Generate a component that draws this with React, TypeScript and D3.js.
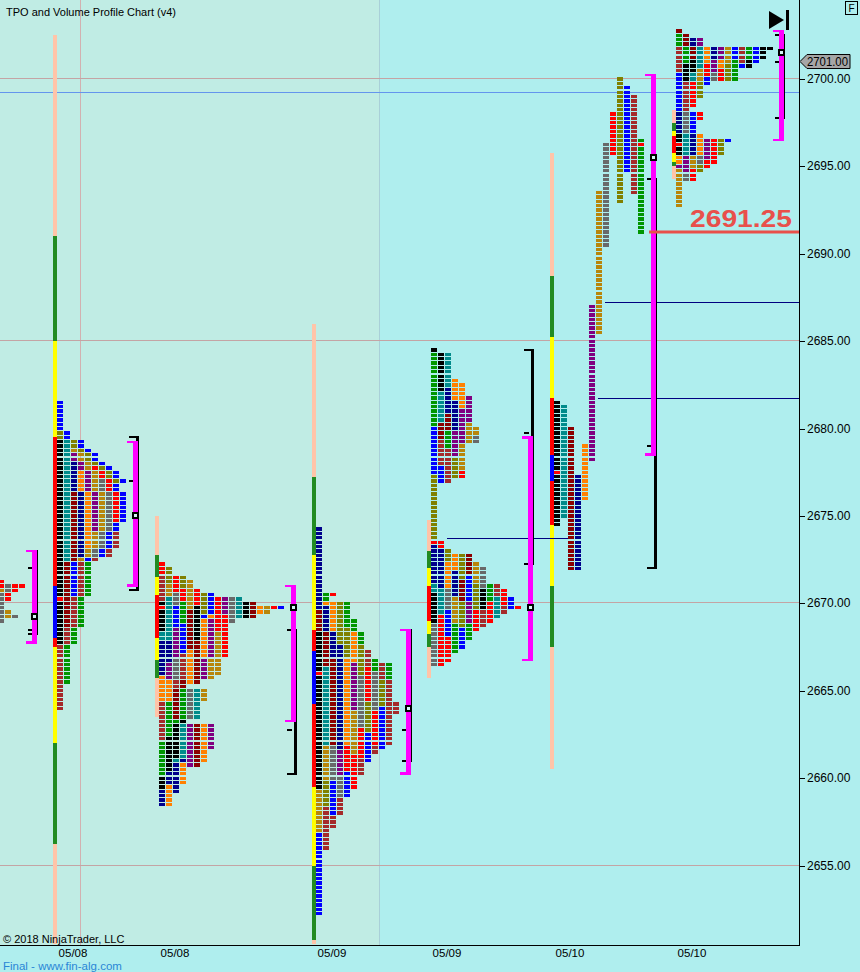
import * as d3 from "d3";
import React from "react";

// TPO + volume profile chart (NinjaTrader style)
type Period = [string, number, number]; // color key, high, low
type Seg = [string, number, number];

const W = 860;
const H = 972;
const plotRight = 799;
const plotBottom = 945;

const tpoColors: Record<string, string> = {
  k: "#000000", t: "#008b8b", m: "#8b0000", n: "#00008b", o: "#ff8000", p: "#800080",
  g: "#b8860b", d: "#696969", r: "#ff0000", v: "#808000", b: "#0000ff", w: "#a52a2a", G: "#009600",
};
const barColors: Record<string, string> = {
  P: "#ffc4a8", G: "#228b22", Y: "#ffff00", R: "#ff0000", B: "#0000ff",
};

// ---- data: periods per session (time order) ----
const periodsA: Period[] = [
  ["r", 2671.25, 2671.0], ["g", 2670.75, 2670.75], ["d", 2671.0, 2669.0], ["r", 2671.0, 2670.25],
  ["g", 2669.5, 2669.25], ["d", 2669.25, 2669.25], ["r", 2671.0, 2671.0],
];
const periodsB: Period[] = [
  ["k", 2679.25, 2667.75], ["t", 2679.25, 2672.5], ["m", 2676.25, 2668.75], ["n", 2678.0, 2672.75],
  ["o", 2677.5, 2673.25], ["p", 2678.5, 2674.25], ["g", 2678.75, 2672.5], ["d", 2677.0, 2672.75],
  ["r", 2677.75, 2674.75], ["v", 2679.75, 2677.0], ["b", 2681.5, 2670.5], ["w", 2674.0, 2664.0],
  ["G", 2672.25, 2665.5],
];
const periodsC: Period[] = [
  ["r", 2672.25, 2671.75], ["w", 2671.5, 2670.25], ["k", 2670.0, 2668.5], ["t", 2668.25, 2668.0],
  ["n", 2667.75, 2666.0], ["o", 2665.75, 2664.5], ["w", 2664.25, 2662.25], ["G", 2662.0, 2660.25],
  ["k", 2660.0, 2659.5], ["n", 2659.25, 2658.5],
  ["v", 2672.0, 2671.25], ["g", 2671.0, 2670.5], ["t", 2670.25, 2668.0], ["n", 2667.75, 2666.75],
  ["p", 2666.5, 2665.75], ["o", 2665.5, 2664.5], ["G", 2664.25, 2662.5], ["k", 2662.25, 2660.5],
  ["n", 2660.25, 2659.75], ["o", 2659.5, 2658.5],
  ["r", 2671.5, 2670.75], ["v", 2671.5, 2671.0], ["d", 2670.5, 2670.0], ["r", 2670.75, 2670.25],
  ["b", 2669.75, 2668.75], ["G", 2670.0, 2669.0], ["p", 2668.5, 2667.0], ["b", 2668.75, 2667.25],
  ["d", 2666.75, 2665.75], ["w", 2667.0, 2665.25], ["m", 2665.5, 2663.5], ["G", 2665.0, 2663.25],
  ["k", 2663.25, 2661.25], ["t", 2663.0, 2661.0], ["n", 2661.0, 2659.25], ["o", 2660.75, 2659.75],
  ["g", 2671.25, 2669.75], ["r", 2670.75, 2670.0], ["m", 2669.5, 2667.5], ["k", 2669.75, 2668.0],
  ["v", 2670.5, 2669.5], ["o", 2667.25, 2665.5], ["m", 2667.75, 2665.5], ["b", 2670.5, 2669.25],
  ["o", 2669.25, 2667.0], ["d", 2665.0, 2663.5], ["t", 2665.0, 2663.5], ["p", 2669.0, 2665.75],
  ["g", 2666.75, 2665.75], ["g", 2665.0, 2664.5], ["p", 2663.0, 2660.75], ["m", 2663.0, 2660.75],
  ["o", 2663.0, 2661.0], ["p", 2663.0, 2661.75],
  ["r", 2670.25, 2668.5], ["g", 2668.25, 2666.0], ["p", 2670.25, 2669.5], ["r", 2669.25, 2667.0],
  ["d", 2670.25, 2669.0], ["t", 2670.25, 2669.25], ["k", 2670.0, 2669.25], ["m", 2670.0, 2669.25],
  ["o", 2669.75, 2669.5], ["g", 2669.75, 2669.5], ["r", 2669.75, 2669.75], ["b", 2669.75, 2669.75],
];
const periodsD: Period[] = [
  ["n", 2674.25, 2669.75], ["m", 2669.5, 2668.5], ["k", 2668.25, 2659.5], ["g", 2659.25, 2657.0], ["b", 2656.75, 2652.25],
  ["G", 2670.5, 2670.25], ["o", 2670.0, 2670.0], ["n", 2669.75, 2668.5], ["m", 2668.25, 2666.5], ["t", 2666.25, 2662.0],
  ["g", 2661.75, 2660.0], ["v", 2659.75, 2658.5], ["w", 2658.25, 2656.0],
  ["r", 2670.5, 2670.5], ["o", 2670.0, 2668.5], ["n", 2668.25, 2667.0], ["m", 2666.75, 2662.0], ["d", 2661.75, 2660.0],
  ["b", 2659.75, 2658.0], ["w", 2657.75, 2657.25],
  ["v", 2670.0, 2667.75], ["n", 2667.5, 2661.75], ["p", 2661.5, 2660.25], ["d", 2660.0, 2659.0], ["w", 2658.75, 2658.0],
  ["G", 2670.0, 2668.75], ["v", 2668.5, 2667.0], ["o", 2666.75, 2662.0], ["r", 2661.75, 2660.5], ["b", 2660.25, 2659.0],
  ["G", 2669.0, 2668.5], ["o", 2668.25, 2666.75], ["p", 2666.5, 2664.0], ["g", 2663.75, 2661.5], ["r", 2661.25, 2659.5],
  ["G", 2668.25, 2667.75], ["v", 2667.5, 2666.0], ["d", 2665.75, 2663.0], ["r", 2662.75, 2661.25], ["w", 2661.0, 2660.25],
  ["w", 2667.25, 2666.5], ["r", 2666.25, 2664.5], ["v", 2664.25, 2662.75], ["b", 2662.5, 2661.0],
  ["G", 2666.75, 2666.25], ["d", 2666.0, 2664.0], ["r", 2663.75, 2662.0], ["w", 2661.75, 2661.5],
  ["w", 2666.5, 2665.75], ["v", 2665.5, 2664.25], ["b", 2664.0, 2661.75],
  ["G", 2666.5, 2665.75], ["w", 2665.5, 2662.0], ["w", 2664.25, 2663.75],
];
const periodsE: Period[] = [
  ["k", 2684.5, 2684.5], ["G", 2684.25, 2680.25], ["b", 2680.0, 2677.5], ["v", 2677.25, 2673.5],
  ["n", 2673.25, 2671.25], ["t", 2671.0, 2670.75], ["k", 2670.5, 2669.0], ["d", 2668.75, 2666.5],
  ["k", 2684.25, 2682.25], ["t", 2682.0, 2680.5], ["m", 2680.25, 2679.5], ["w", 2679.25, 2678.0], ["b", 2677.75, 2677.0],
  ["r", 2673.5, 2673.25], ["n", 2673.0, 2671.0], ["t", 2670.75, 2669.5], ["r", 2669.25, 2666.5],
  ["t", 2684.25, 2682.5], ["n", 2682.25, 2681.0], ["m", 2680.75, 2680.0], ["G", 2679.75, 2679.0], ["w", 2678.75, 2677.0],
  ["v", 2673.0, 2672.5], ["o", 2672.25, 2671.0], ["d", 2670.75, 2669.75], ["b", 2669.5, 2668.25], ["r", 2668.0, 2666.75],
  ["o", 2682.75, 2681.75], ["n", 2681.5, 2680.0], ["p", 2679.75, 2678.5], ["v", 2678.25, 2677.25],
  ["o", 2672.75, 2672.0], ["n", 2671.75, 2670.5], ["g", 2670.25, 2669.0], ["G", 2668.75, 2667.25],
  ["o", 2682.5, 2681.25], ["p", 2681.0, 2679.25], ["g", 2679.0, 2677.75], ["r", 2677.5, 2677.25],
  ["v", 2672.75, 2671.5], ["m", 2671.25, 2670.25], ["v", 2670.0, 2668.75], ["b", 2668.5, 2667.5],
  ["p", 2681.75, 2680.5], ["g", 2680.25, 2679.25],
  ["m", 2672.75, 2671.75], ["b", 2671.5, 2670.25], ["p", 2670.0, 2669.0], ["G", 2668.75, 2668.0],
  ["g", 2680.0, 2679.75], ["d", 2679.5, 2679.25],
  ["g", 2672.25, 2671.25], ["v", 2671.0, 2669.75], ["r", 2669.5, 2668.5],
  ["d", 2672.0, 2671.0], ["k", 2670.75, 2669.75], ["w", 2669.5, 2668.75],
  ["G", 2671.0, 2670.25], ["r", 2670.0, 2669.0], ["w", 2671.0, 2670.5], ["t", 2670.25, 2669.25],
  ["r", 2670.75, 2670.0], ["w", 2669.75, 2669.5], ["b", 2670.25, 2669.75], ["r", 2669.75, 2669.75],
];
// split profile: one column per period
const periodsF: Period[] = [
  ["k", 2681.5, 2674.5], ["t", 2681.25, 2675.0], ["m", 2680.0, 2672.0], ["n", 2677.25, 2672.0],
  ["o", 2679.0, 2676.0], ["p", 2687.0, 2678.25], ["g", 2693.5, 2685.5], ["d", 2696.25, 2690.5],
  ["r", 2698.0, 2695.75], ["v", 2700.0, 2693.0], ["b", 2699.5, 2694.75], ["w", 2699.0, 2693.5],
  ["G", 2696.5, 2691.25],
];
const periodsG: Period[] = [
  ["m", 2702.75, 2702.75], ["G", 2702.5, 2702.0], ["w", 2701.75, 2700.5], ["b", 2700.25, 2698.25],
  ["n", 2698.0, 2697.0], ["k", 2696.75, 2695.75], ["o", 2695.5, 2695.25], ["p", 2695.0, 2695.0], ["g", 2694.75, 2692.75],
  ["m", 2702.5, 2702.0], ["G", 2701.75, 2701.0], ["k", 2700.75, 2700.0], ["w", 2699.75, 2698.25],
  ["d", 2698.0, 2697.0], ["t", 2696.75, 2695.75], ["p", 2695.5, 2694.75], ["d", 2694.5, 2694.25],
  ["n", 2702.25, 2702.0], ["m", 2701.75, 2701.25], ["k", 2701.0, 2700.5], ["t", 2700.25, 2700.0], ["r", 2699.75, 2698.5],
  ["b", 2698.0, 2697.0], ["n", 2696.75, 2695.75], ["g", 2695.5, 2695.0], ["r", 2694.75, 2694.25],
  ["p", 2702.25, 2702.0], ["t", 2701.75, 2700.75], ["g", 2700.5, 2700.0], ["v", 2699.75, 2699.0],
  ["r", 2698.0, 2697.75], ["o", 2696.75, 2695.75], ["d", 2695.5, 2695.25], ["v", 2695.0, 2694.75],
  ["o", 2701.75, 2701.0], ["r", 2700.75, 2700.25], ["b", 2700.0, 2699.75], ["p", 2696.5, 2695.5], ["r", 2695.25, 2695.0],
  ["n", 2701.75, 2701.25], ["p", 2701.0, 2700.5], ["d", 2700.25, 2700.0], ["r", 2696.5, 2695.25],
  ["p", 2701.75, 2701.25], ["o", 2701.0, 2700.75], ["r", 2700.5, 2700.0], ["v", 2696.5, 2695.75],
  ["g", 2701.75, 2701.0], ["v", 2700.75, 2700.0], ["b", 2696.5, 2696.5],
  ["b", 2701.75, 2701.25], ["G", 2701.0, 2700.0], ["w", 2701.75, 2701.0], ["b", 2700.75, 2700.75],
  ["G", 2701.75, 2701.25], ["k", 2701.0, 2700.75], ["b", 2701.75, 2701.0], ["k", 2701.75, 2701.25],
  ["k", 2701.75, 2701.75],
];

const openPrices = [null, 2670.25, 2669.75, 2666.0, 2673.5, 2677.5, 2696.25];
const closeF = 2696.25;

// ---- session colour bars ----
const barB: Seg[] = [["P", 2702.5, 2691.0], ["G", 2691.0, 2685.0], ["Y", 2685.0, 2679.5], ["R", 2679.5, 2671.0], ["B", 2671.0, 2668.0], ["R", 2668.0, 2667.5], ["Y", 2667.5, 2662.0], ["G", 2662.0, 2656.25], ["P", 2656.25, 2650.5]];
const barC: Seg[] = [["P", 2675.0, 2672.75], ["G", 2672.75, 2671.5], ["Y", 2671.5, 2670.5], ["R", 2670.5, 2668.0], ["Y", 2668.0, 2666.75], ["G", 2666.75, 2665.75], ["P", 2665.75, 2663.5]];
const barD: Seg[] = [["P", 2686.0, 2677.25], ["G", 2677.25, 2672.75], ["Y", 2672.75, 2668.5], ["R", 2668.5, 2667.25], ["B", 2667.25, 2664.25], ["R", 2664.25, 2659.5], ["Y", 2659.5, 2655.0], ["G", 2655.0, 2650.75], ["P", 2650.75, 2650.5]];
const barE: Seg[] = [["P", 2674.75, 2673.0], ["G", 2673.0, 2672.0], ["Y", 2672.0, 2671.0], ["R", 2671.0, 2669.0], ["Y", 2669.0, 2668.25], ["G", 2668.25, 2667.5], ["P", 2667.5, 2665.75]];
const barF: Seg[] = [["P", 2695.75, 2688.75], ["G", 2688.75, 2685.25], ["Y", 2685.25, 2681.75], ["R", 2681.75, 2678.5], ["B", 2678.5, 2677.0], ["R", 2677.0, 2674.5], ["Y", 2674.5, 2671.0], ["G", 2671.0, 2667.5], ["P", 2667.5, 2660.5]];
const barG: Seg[] = [["P", 2698.25, 2697.5], ["G", 2697.5, 2697.0], ["Y", 2697.0, 2696.75], ["R", 2696.75, 2695.75], ["Y", 2695.75, 2695.25], ["G", 2695.25, 2695.0], ["P", 2695.0, 2694.25]];

// ---- value area / range brackets ----
const valueAreas = [[2673.0, 2667.75], [2679.25, 2671.0], [2671.0, 2663.25], [2668.5, 2660.25], [2679.5, 2666.75], [2700.25, 2678.5], [2702.75, 2696.5]];
const ranges = [[2673.0, 2668.25], [2679.5, 2670.75], [2668.5, 2660.25], [2668.5, 2661.0], [2684.5, 2672.25], [2694.25, 2672.0], [2702.5, 2697.75]];
const rangeTicks = [[2672.0, 2668.5], [2677.0], [2662.75], [2662.75], [2679.75], [2679.0], [2701.0]];
const pocs = [2669.25, 2675.0, 2669.75, 2664.0, 2669.75, 2695.5, 2701.5];

// ---- reference lines ----
const gridPrices = [2700, 2685, 2670, 2655];
const bluePrice = 2699.25;
const navyLines: [number, number, number][] = [[2673.75, 447, 568], [2687.25, 605, plotRight], [2681.75, 598, plotRight]];
const redLevel = 2691.25;
const lastPrice = 2701.0;
const dateLabels = ["05/08", "05/08", "05/09", "05/09", "05/10", "05/10"];

// layout
const profileX = [-2, 57, 159, 316, 431, 554, 676];
const bracketX = [32, 133, 291, 406, 528, 651, 779];
const barX = [53, 155, 312, 427, 550, 672];
const bars = [barB, barC, barD, barE, barF, barG];
const profiles = [periodsA, periodsB, periodsC, periodsD, periodsE, periodsF, periodsG];
const splitMode = [false, false, false, false, false, true, false];

const y = d3.scaleLinear().domain([2655, 2700]).range([865.5, 79]);
const font = "'Liberation Sans', Arial, sans-serif";

type Cell = { x: number; p: number; c: string };

function buildCells(periods: Period[], x0: number, split: boolean, open: number | null): Cell[] {
  const cells: Cell[] = [];
  if (split) {
    periods.forEach(([c, hi, lo], i) => {
      for (let t = Math.round(hi * 4); t >= Math.round(lo * 4); t--) {
        cells.push({ x: x0 + 7 * i, p: t / 4, c: i === 0 && open != null && t === Math.round(open * 4) ? "r" : c });
      }
    });
    return cells;
  }
  const rows = new Map<number, string[]>();
  periods.forEach(([c, hi, lo]) => {
    for (let t = Math.round(hi * 4); t >= Math.round(lo * 4); t--) {
      if (!rows.has(t)) rows.set(t, []);
      rows.get(t)!.push(c);
    }
  });
  rows.forEach((list, t) => {
    list.forEach((c, i) => {
      const isOpen = i === 0 && open != null && t === Math.round(open * 4);
      cells.push({ x: x0 + 7 * i, p: t / 4, c: isOpen ? "r" : c });
    });
  });
  return cells;
}

const App: React.FC = () => {
  const allCells = profiles.map((pr, i) => buildCells(pr, profileX[i], splitMode[i], openPrices[i]));
  const fClose = { x: profileX[5] + 7 * (periodsF.length - 1), p: closeF };
  const ticks = y.ticks(10);
  const ly = y(lastPrice);

  return (
    <svg width={W} height={H} style={{ position: "absolute", left: 0, top: 0 }} fontFamily={font}>
      <rect width={W} height={H} fill="#afeeee" />
      <rect x={0} y={0} width={379} height={plotBottom} fill="#c0ece4" />
      <line x1={379.5} x2={379.5} y1={0} y2={plotBottom} stroke="#a9cfd8" />
      <line x1={80.5} x2={80.5} y1={0} y2={plotBottom} stroke="#d2b0b0" />
      {gridPrices.map((p) => (
        <line key={p} x1={0} x2={plotRight} y1={Math.round(y(p)) - 0.5} y2={Math.round(y(p)) - 0.5} stroke="#c4a4a4" />
      ))}
      <line x1={0} x2={plotRight} y1={Math.round(y(bluePrice)) + 0.5} y2={Math.round(y(bluePrice)) + 0.5} stroke="#6495ed" />

      {/* session colour bars */}
      <g shapeRendering="crispEdges">
        {bars.map((segs, i) =>
          segs.map(([c, hi, lo], j) => (
            <rect key={`${i}-${j}`} x={barX[i]} y={y(hi)} width={4} height={y(lo) - y(hi)} fill={barColors[c]} />
          ))
        )}
      </g>

      {/* TPO cells */}
      <g shapeRendering="crispEdges">
        {allCells.map((cells, i) =>
          cells.map((cl, j) => (
            <rect key={`${i}-${j}`} x={cl.x} y={y(cl.p) - 1.6} width={6} height={3.3} fill={tpoColors[cl.c]} />
          ))
        )}
        <rect x={fClose.x} y={y(fClose.p) - 1.6} width={6} height={3.3} fill="#ff0000" />
      </g>

      {navyLines.map(([p, x1, x2], i) => (
        <line key={i} x1={x1} x2={x2} y1={Math.round(y(p)) + 0.5} y2={Math.round(y(p)) + 0.5} stroke="#000080" />
      ))}

      {/* brackets */}
      <g shapeRendering="crispEdges">
        {bracketX.map((bx, i) => {
          const [rh, rl] = ranges[i];
          const [vh, vl] = valueAreas[i];
          return (
            <g key={i}>
              <rect x={bx + 3} y={y(rh) - 1} width={3} height={y(rl) - y(rh) + 2} fill="#000" />
              <rect x={bx - 4} y={y(rh) - 1} width={10} height={2} fill="#000" />
              <rect x={bx - 4} y={y(rl) - 1} width={10} height={2} fill="#000" />
              {rangeTicks[i].map((t) => (
                <rect key={t} x={bx - 4} y={y(t) - 1} width={5} height={2} fill="#000" />
              ))}
              <rect x={bx} y={y(vh) - 1} width={4.5} height={y(vl) - y(vh) + 2} fill="#ff00ff" />
              <rect x={bx - 6} y={y(vh) - 1} width={10.5} height={2.5} fill="#ff00ff" />
              <rect x={bx - 6} y={y(vl) - 1.5} width={10.5} height={2.5} fill="#ff00ff" />
              <rect x={bx} y={y(pocs[i]) - 2.5} width={5} height={5} fill="#d4f7f7" stroke="#000" strokeWidth={2} />
            </g>
          );
        })}
      </g>

      {/* red level */}
      <line x1={649} x2={plotRight} y1={y(redLevel)} y2={y(redLevel)} stroke="#e8504b" strokeWidth={3} />
      <text x={690} y={227} fontSize={24} fontWeight="bold" fill="#e8504b" textLength={102} lengthAdjust="spacingAndGlyphs">
        {d3.format(".2f")(redLevel)}
      </text>

      {/* axes */}
      <line x1={plotRight + 0.5} x2={plotRight + 0.5} y1={0} y2={plotBottom} stroke="#000" />
      <line x1={0} x2={plotRight + 1} y1={plotBottom + 0.5} y2={plotBottom + 0.5} stroke="#000" />
      {ticks.map((t) => (
        <g key={t}>
          <line x1={plotRight} x2={plotRight + 6} y1={Math.round(y(t)) + 0.5} y2={Math.round(y(t)) + 0.5} stroke="#000" />
          <text x={807} y={y(t) + 4} fontSize={12} fill="#000">{d3.format(".2f")(t)}</text>
        </g>
      ))}
      <polygon
        points={`${plotRight + 1},${ly} ${plotRight + 8},${ly - 7} 850,${ly - 7} 850,${ly + 7} ${plotRight + 8},${ly + 7}`}
        fill="#a6a6a6" stroke="#000"
      />
      <text x={807} y={ly + 4} fontSize={12} fill="#000" textLength={41} lengthAdjust="spacingAndGlyphs">
        {d3.format(".2f")(lastPrice)}
      </text>

      {dateLabels.map((d, i) => (
        <text key={i} x={barX[i] + 20} y={957} textAnchor="middle" fontSize={11.5} fill="#000">{d}</text>
      ))}

      {/* decorations */}
      <text x={6} y={16} fontSize={11} fill="#000">TPO and Volume Profile Chart (v4)</text>
      <text x={3} y={943} fontSize={11} fill="#000">© 2018 NinjaTrader, LLC</text>
      <text x={3} y={970} fontSize={11.5} fill="#2a86d6">Final - www.fin-alg.com</text>
      <polygon points="769,11 769,29 784,20" fill="#000" />
      <rect x={786} y={10} width={3} height={20} fill="#000" />
      <rect x={845.5} y={1.5} width={12} height={13} fill="none" stroke="#000" />
      <text x={851.5} y={12} textAnchor="middle" fontSize={10} fill="#000">F</text>
    </svg>
  );
};

export default App;
